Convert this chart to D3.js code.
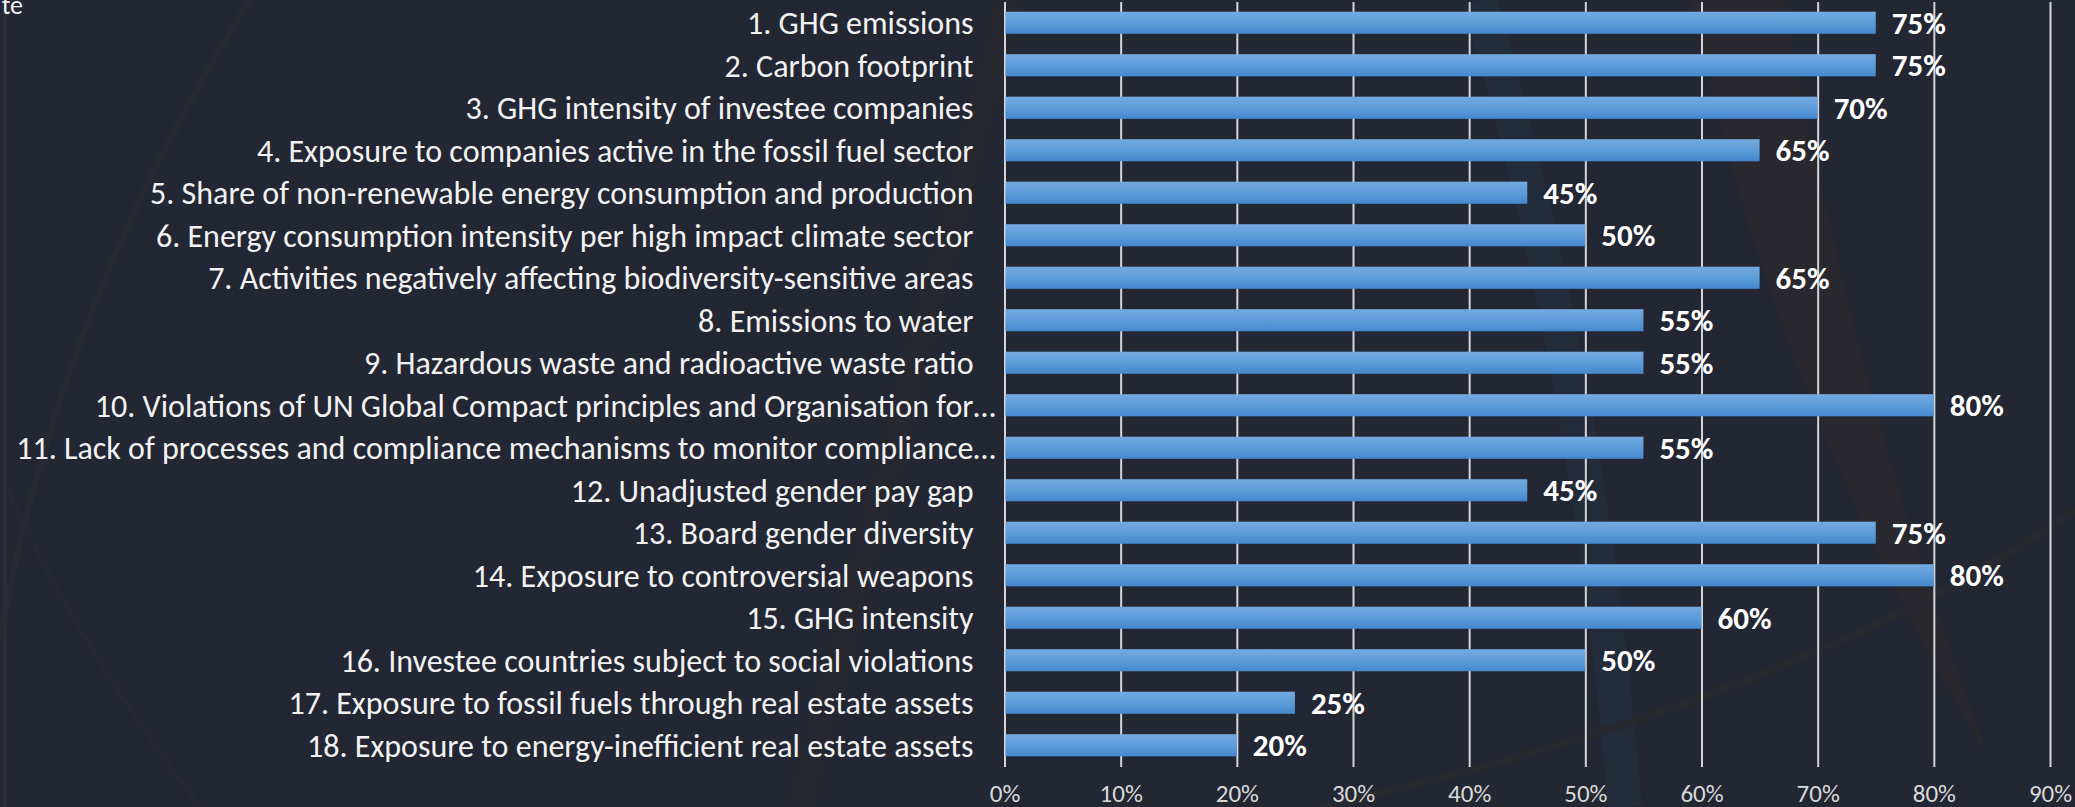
<!DOCTYPE html>
<html>
<head>
<meta charset="utf-8">
<script src="https://cdn.jsdelivr.net/npm/d3@7"></script>
<style>
  html, body { margin: 0; padding: 0; background: #222733; overflow: hidden; }
  svg { display: block; }
  text { font-family: Carlito, Calibri, Lato, sans-serif; }
</style>
</head>
<body>
<div id="chart"></div>
<script>
// PAI indicators (category axis, top to bottom)
const categories = [
  '1. GHG emissions',
  '2. Carbon footprint',
  '3. GHG intensity of investee companies',
  '4. Exposure to companies active in the fossil fuel sector',
  '5. Share of non-renewable energy consumption and production',
  '6. Energy consumption intensity per high impact climate sector',
  '7. Activities negatively affecting biodiversity-sensitive areas',
  '8. Emissions to water',
  '9. Hazardous waste and radioactive waste ratio',
  '10. Violations of UN Global Compact principles and Organisation for…',
  '11. Lack of processes and compliance mechanisms to monitor compliance…',
  '12. Unadjusted gender pay gap',
  '13. Board gender diversity',
  '14. Exposure to controversial weapons',
  '15. GHG intensity',
  '16. Investee countries subject to social violations',
  '17. Exposure to fossil fuels through real estate assets',
  '18. Exposure to energy-inefficient real estate assets'
];

const shares = [0.75, 0.75, 0.70, 0.65, 0.45, 0.50, 0.65, 0.55, 0.55,
                0.80, 0.55, 0.45, 0.75, 0.80, 0.60, 0.50, 0.25, 0.20];

const xTicks = [0, 0.1, 0.2, 0.3, 0.4, 0.5, 0.6, 0.7, 0.8, 0.9];

const W = 2075, H = 807;
const rows = categories.map((c, i) => ({ label: c, value: shares[i] }));

const svg = d3.select('#chart').append('svg')
  .attr('width', W).attr('height', H);

svg.append('rect').attr('width', W).attr('height', H).attr('fill', '#222733');

// faint watermark behind the chart
const wm = svg.append('g').attr('fill', 'none');
wm.append('path').attr('d', 'M250,0 Q60,300 0,640').attr('stroke', '#282a32').attr('stroke-width', 7);
wm.append('path').attr('d', 'M0,470 Q60,620 200,807').attr('stroke', '#262932').attr('stroke-width', 5);
wm.append('path').attr('d', 'M1010,0 Q900,420 800,807').attr('stroke', '#26272f').attr('stroke-width', 30);
wm.append('path').attr('d', 'M1480,0 Q1590,380 1625,807').attr('stroke', '#232c3a').attr('stroke-width', 34);
wm.append('path').attr('d', 'M1690,0 Q1780,420 1990,760 Q1860,420 1785,0 Z').attr('fill', '#28282e');
wm.append('path').attr('d', 'M1320,807 Q1800,700 2075,510').attr('stroke', '#28282f').attr('stroke-width', 8);
svg.append('rect').attr('x', 3).attr('y', 14).attr('width', 4).attr('height', H - 14).attr('fill', '#2a2d35');

// clipped title fragment at the top-left corner
svg.append('text').attr('x', 23).attr('y', 14)
  .attr('text-anchor', 'end').attr('font-size', 26).attr('fill', '#f2f2f2')
  .text('te');

const x = d3.scaleLinear().domain([0, 0.9]).range([1004.5, 2050]);
const y = d3.scaleBand().domain(categories).range([1.5, 766.5])
  .paddingInner(0.48).paddingOuter(0.24);

const defs = svg.append('defs');
const grad = defs.append('linearGradient').attr('id', 'barGrad')
  .attr('x1', 0).attr('y1', 0).attr('x2', 0).attr('y2', 1);
grad.append('stop').attr('offset', '0%').attr('stop-color', '#74aae0');
grad.append('stop').attr('offset', '55%').attr('stop-color', '#5b9bd9');
grad.append('stop').attr('offset', '100%').attr('stop-color', '#4487cd');

// gridlines + tick labels
const xAxis = d3.axisBottom(x).tickValues(xTicks)
  .tickFormat(d3.format('.0%'))
  .tickSizeInner(-(766.5 - 1.5)).tickSizeOuter(0).tickPadding(17);

const gx = svg.append('g').attr('transform', 'translate(0,767)').call(xAxis);
gx.select('.domain').remove();
gx.selectAll('.tick line').attr('stroke', '#d4d4d6').attr('stroke-width', 2);
gx.selectAll('.tick text').attr('fill', '#d9d9d9')
  .attr('font-size', 25).style('font-family', 'Carlito, Calibri, Lato, sans-serif');

// bars
svg.append('g').selectAll('rect')
  .data(rows).join('rect')
  .attr('x', x(0) + 1)
  .attr('y', d => y(d.label))
  .attr('width', d => x(d.value) - x(0) - 1)
  .attr('height', y.bandwidth())
  .attr('fill', 'url(#barGrad)');

// category labels
svg.append('g').selectAll('text')
  .data(rows).join('text')
  .attr('x', d => x(0) - (d.label.endsWith('…') ? 9 : 31))
  .attr('y', d => y(d.label) + y.bandwidth() / 2)
  .attr('dy', '0.36em')
  .attr('text-anchor', 'end')
  .attr('font-size', 32)
  .attr('fill', '#f2f2f2')
  .text(d => d.label);

// value labels
svg.append('g').selectAll('text')
  .data(rows).join('text')
  .attr('x', d => x(d.value) + 16)
  .attr('y', d => y(d.label) + y.bandwidth() / 2)
  .attr('dy', '0.36em')
  .attr('font-size', 31)
  .attr('font-weight', 'bold')
  .attr('fill', '#ffffff')
  .text(d => d3.format('.0%')(d.value));
</script>
</body>
</html>
